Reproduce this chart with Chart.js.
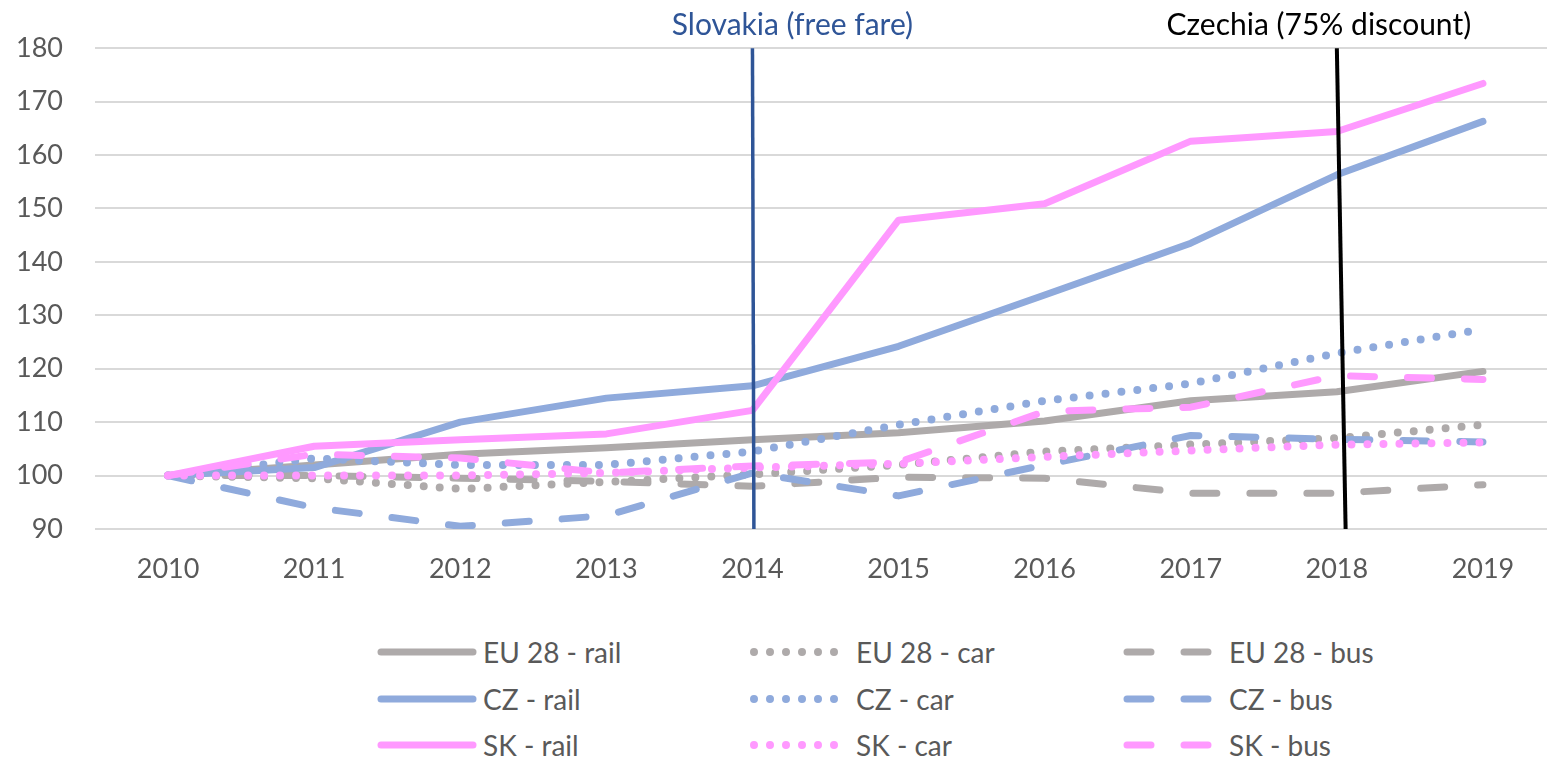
<!DOCTYPE html>
<html>
<head>
<meta charset="utf-8">
<script src="https://cdn.jsdelivr.net/npm/chart.js@4.4.0/dist/chart.umd.min.js"></script>
<style>
  html, body { margin: 0; padding: 0; background: #fff; overflow: hidden; }
  body { width: 1547px; height: 760px; position: relative; font-family: Lato, "Open Sans", sans-serif; }
  #wrap { position: absolute; left: 0; top: 0; width: 1560px; height: 600px; }
  #legend { position: absolute; left: 377px; top: 629px; display: grid; grid-template-columns: 373px 373px 373px; }
  .item { display: flex; align-items: center; height: 46.5px; font-size: 28px; color: #595959; white-space: nowrap; }
  .item svg { margin-right: 6px; flex: none; }
</style>
</head>
<body>
<div id="wrap"><canvas id="transportChart"></canvas></div>
<div id="legend"></div>
<script>
// Passenger transport index, 2010 = 100
const years = ['2010', '2011', '2012', '2013', '2014', '2015', '2016', '2017', '2018', '2019'];

const euRail = [100, 102, 104, 105.2, 106.7, 108, 110.2, 114, 115.7, 119.5];
const euCar  = [100, 99.5, 97.5, 98.8, 100.2, 102, 104.5, 105.8, 107, 109.5];
const euBus  = [100, 100, 99.5, 98.9, 98, 99.7, 99.5, 96.7, 96.7, 98.3];
const czRail = [100, 101.5, 110, 114.5, 116.8, 124.2, 133.8, 143.5, 156.3, 166.3];
const czCar  = [100, 103.2, 102, 102, 104.5, 109.5, 114, 117.2, 122.9, 127.4];
const czBus  = [100, 94, 90.5, 92.5, 100.5, 96.2, 102, 107.5, 106.8, 106.3];
const skRail = [100, 105.5, 106.7, 107.8, 112.2, 147.8, 150.9, 162.6, 164.4, 173.4];
const skCar  = [100, 100, 100, 100.5, 101.5, 102.2, 103.5, 104.7, 105.8, 106.2];
const skBus  = [100, 104, 103.3, 100.5, 101.8, 102.5, 112, 112.8, 118.7, 118];

const yTicks = [90, 100, 110, 120, 130, 140, 150, 160, 170, 180];

// policy changes, marked as vertical lines (category index at top / bottom)
const eventLabels = ['Slovakia (free fare)', 'Czechia (75% discount)'];
const eventTop    = [4.0, 8.0];
const eventBottom = [4.01, 8.06];

const GRAY = '#AEAAAA', BLUE = '#8FAADC', PINK = '#FF99FF';
const styles = {
    rail: { width: 7, dash: [] },
    car:  { width: 8, dash: [0, 16] },
    bus:  { width: 7, dash: [24, 33] }
};

const series = [
    ['EU 28 - rail', euRail, GRAY, 'rail'],
    ['EU 28 - car',  euCar,  GRAY, 'car'],
    ['EU 28 - bus',  euBus,  GRAY, 'bus'],
    ['CZ - rail',    czRail, BLUE, 'rail'],
    ['CZ - car',     czCar,  BLUE, 'car'],
    ['CZ - bus',     czBus,  BLUE, 'bus'],
    ['SK - rail',    skRail, PINK, 'rail'],
    ['SK - car',     skCar,  PINK, 'car'],
    ['SK - bus',     skBus,  PINK, 'bus']
];

const datasets = series.map(([label, data, color, mode], i) => ({
    label: label,
    data: data,
    borderColor: color,
    backgroundColor: color,
    borderWidth: styles[mode].width,
    borderDash: styles[mode].dash,
    borderCapStyle: 'round',
    borderJoinStyle: 'round',
    pointRadius: 0,
    tension: 0,
    fill: false,
    order: series.length - i
}));

const eventLines = {
    id: 'eventLines',
    afterDatasetsDraw(chart, args, opts) {
        const { ctx, chartArea, scales: { x } } = chart;
        ctx.save();
        eventLabels.forEach((text, i) => {
            const x0 = x.getPixelForValue(eventTop[i]);
            const x1 = x.getPixelForValue(eventBottom[i]);
            ctx.beginPath();
            ctx.strokeStyle = opts.colors[i];
            ctx.lineWidth = opts.widths[i];
            ctx.moveTo(x0, chartArea.top);
            ctx.lineTo(x1, chartArea.bottom);
            ctx.stroke();

            ctx.fillStyle = opts.colors[i];
            ctx.font = '30px Lato, "Open Sans", sans-serif';
            ctx.textAlign = 'center';
            ctx.textBaseline = 'alphabetic';
            ctx.fillText(text, x0 + opts.labelDx[i], 35);
        });
        ctx.restore();
    }
};

const chart = new Chart(document.getElementById('transportChart'), {
    type: 'line',
    data: { labels: years, datasets: datasets },
    options: {
        responsive: true,
        maintainAspectRatio: false,
        animation: false,
        layout: { padding: { top: 45, right: 4, left: 0, bottom: 0 } },
        plugins: {
            legend: { display: false },
            tooltip: { enabled: false },
            eventLines: {
                colors: ['#2F5597', '#000000'],
                widths: [3.5, 4],
                labelDx: [40, -18]
            }
        },
        scales: {
            x: {
                offset: true,
                grid: { display: false, drawTicks: false },
                border: { display: false },
                ticks: { color: '#595959', font: { family: 'Lato', size: 27 }, padding: 24, maxRotation: 0 },
                afterFit: (s) => { s.height = 71; }
            },
            y: {
                min: 90,
                max: 180,
                afterBuildTicks: (s) => { s.ticks = yTicks.map(v => ({ value: v })); },
                grid: { color: '#D9D9D9', lineWidth: 2, drawTicks: false },
                border: { display: false },
                ticks: { color: '#595959', font: { family: 'Lato', size: 27 }, padding: 32 },
                afterFit: (s) => { s.width = 95; }
            }
        }
    },
    plugins: [eventLines]
});

// legend laid out in three columns
const legendEl = document.getElementById('legend');
series.forEach(([label, data, color, mode]) => {
    const st = styles[mode];
    const dash = st.dash.length ? `stroke-dasharray="${st.dash.join(' ')}"` : '';
    const item = document.createElement('div');
    item.className = 'item';
    item.innerHTML =
        `<svg width="100" height="14"><line x1="4" y1="7" x2="96" y2="7" stroke="${color}" ` +
        `stroke-width="${st.width}" stroke-linecap="round" ${dash}/></svg><span>${label}</span>`;
    legendEl.appendChild(item);
});
</script>
</body>
</html>
